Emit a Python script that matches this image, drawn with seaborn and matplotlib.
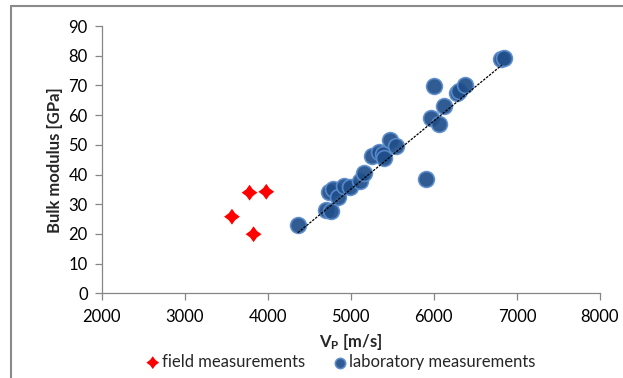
import matplotlib
matplotlib.use("Agg")
import matplotlib.pyplot as plt
from matplotlib.lines import Line2D
from matplotlib.path import Path
import seaborn as sns
import pandas as pd
import numpy as np

# values
field_vp = [3570, 3782, 3983, 3830]
field_k = [25.8, 33.9, 34.2, 19.9]

lab_vp = [4363, 4704, 4764, 4744, 4784, 4844, 4924, 4985, 5117, 5165,
          5257, 5337, 5385, 5402, 5474, 5546, 5906, 5966, 5997, 6058,
          6118, 6278, 6298, 6378, 6808, 6848]
lab_k = [23.0, 28.0, 27.8, 34.2, 35.0, 32.6, 36.3, 35.7, 37.9, 40.6,
         46.2, 47.5, 46.9, 45.6, 51.6, 49.7, 38.5, 58.9, 69.9, 57.0,
         63.1, 67.5, 68.1, 70.1, 78.9, 79.1]

# linear trendline as drawn in the picture (end points)
trend_vp = [4363, 6820]
trend_k = [20.4, 76.9]

x_ticks = [2000, 3000, 4000, 5000, 6000, 7000, 8000]
y_ticks = [0, 10, 20, 30, 40, 50, 60, 70, 80, 90]

field = pd.DataFrame({"vp": field_vp, "k": field_k})
lab = pd.DataFrame({"vp": lab_vp, "k": lab_k})
trend = pd.DataFrame({"vp": trend_vp, "k": trend_k})

sns.set_theme(style="white")
plt.rcParams['font.family'] = ['Lato', 'DejaVu Sans']
plt.rcParams['mathtext.fontset'] = 'custom'
plt.rcParams['mathtext.rm'] = 'Lato'
plt.rcParams['mathtext.bf'] = 'Lato:bold'

# slightly concave diamond like the Excel marker
t = 0.42
star = Path([(0, 1), (t, t), (1, 0), (t, -t), (0, -1), (-t, -t), (-1, 0), (-t, t), (0, 1)],
            [Path.MOVETO] + [Path.LINETO] * 7 + [Path.CLOSEPOLY])

fig = plt.figure(figsize=(6.23, 3.78), dpi=100)
ax = fig.add_axes([0.163, 0.224, 0.800, 0.707])

sns.lineplot(data=trend, x="vp", y="k", ax=ax, color="black", lw=0.9,
             dashes=False, linestyle=(0, (2, 1)))
sns.scatterplot(data=field, x="vp", y="k", ax=ax, marker=star, s=130,
                color="#ff0000", edgecolor="none", label="field measurements")
sns.scatterplot(data=lab, x="vp", y="k", ax=ax, marker="o", s=130,
                color="#1f4e8a", edgecolor="#5b8ccc", linewidth=1.2, alpha=0.92,
                label="laboratory measurements")

ax.set_xlim(2000, 8000)
ax.set_ylim(0, 90)
ax.set_xticks(x_ticks)
ax.set_yticks(y_ticks)
ax.tick_params(axis="both", labelsize=12, colors="#868686", length=5, width=0.9,
               labelcolor="black", direction="out", left=True, bottom=True)
ax.tick_params(axis="x", pad=6)
ax.tick_params(axis="y", pad=5)
for side in ["top", "right"]:
    ax.spines[side].set_visible(False)
for side in ["left", "bottom"]:
    ax.spines[side].set_color("#868686")
    ax.spines[side].set_linewidth(0.9)

ax.set_xlabel(r"$\mathbf{V_P}$ [m/s]", fontsize=12, fontweight="bold")
ax.set_ylabel("Bulk modulus [GPa]", fontsize=12, fontweight="bold")
ax.xaxis.set_label_coords(0.5, -0.145)
ax.yaxis.set_label_coords(-0.078, 0.5)

handles, labels = ax.get_legend_handles_labels()
ax.legend_.remove()
leg = fig.legend(handles, labels, loc="center", bbox_to_anchor=(340 / 623, 1 - 362 / 378),
                 ncol=2, frameon=False, fontsize=12,
                 handletextpad=0.05, columnspacing=1.6, handlelength=1.0)
# legend markers are a bit smaller than the plotted ones
leg.legend_handles[0].set_sizes([85])
leg.legend_handles[1].set_sizes([55])

# chart-area border, only top and left edges are visible in the crop
fig.add_artist(Line2D([11 / 623, 11 / 623], [0, 1 - 6 / 378], color="#8a8a8a", lw=1.5))
fig.add_artist(Line2D([11 / 623, 1], [1 - 6 / 378, 1 - 6 / 378], color="#8a8a8a", lw=1.5))

fig.savefig("out.png", dpi=100)
